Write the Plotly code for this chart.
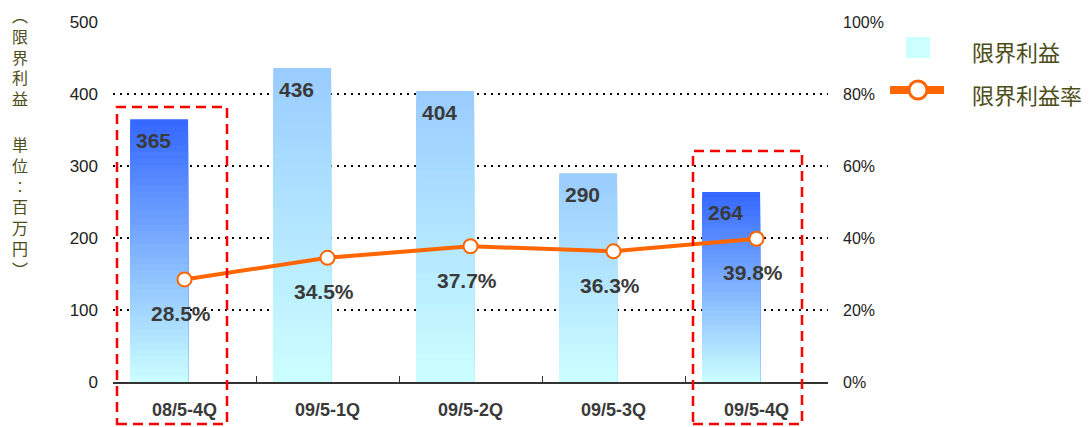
import plotly.graph_objects as go

# data
quarters = ['08/5-4Q', '09/5-1Q', '09/5-2Q', '09/5-3Q', '09/5-4Q']
profit = [365, 436, 404, 290, 264]          # 限界利益 (百万円)
rate = [0.285, 0.345, 0.377, 0.363, 0.398]  # 限界利益率
rate_labels = ['28.5%', '34.5%', '37.7%', '36.3%', '39.8%']
highlight = [True, False, False, False, True]

# page body has an 8px margin, so the figure is shifted
OFF = 8
W, H = 1092 - OFF, 427 - OFF
L, T = 113 - OFF, 22 - OFF
R, B = W - (828 - OFF), H - (382 - OFF)
PW, PH = W - L - R, H - T - B


def px(x):
    return (x - OFF - L) / PW


def py(y):
    return (H - B - (y - OFF)) / PH


def mix(c1, c2, t):
    a = [int(c1[i:i + 2], 16) for i in (1, 3, 5)]
    b = [int(c2[i:i + 2], 16) for i in (1, 3, 5)]
    return 'rgb(%d,%d,%d)' % tuple(round(a[k] + (b[k] - a[k]) * t) for k in range(3))


fig = go.Figure()

# gradient bars: full bars drawn tallest first, each shorter one lighter on top
N = 40
for k in range(N):
    frac = (N - k) / N
    t = (N - k - 0.5) / N
    cols = [mix('#CCFFFF', '#3366FF' if h else '#99CCFF', t) for h in highlight]
    fig.add_trace(go.Bar(
        x=quarters, y=[v * frac for v in profit],
        marker=dict(color=cols, line=dict(width=0)),
        offset=-0.38, width=0.405, showlegend=False, hoverinfo='skip'))

fig.add_trace(go.Scatter(
    x=quarters, y=rate, yaxis='y2', mode='lines+markers', showlegend=False,
    line=dict(color='#FF6600', width=4),
    marker=dict(size=14, color='white', line=dict(color='#FF6600', width=2))))

ann = []
for q, v in zip(quarters, profit):
    ann.append(dict(x=q, y=v, text='<b>%d</b>' % v, showarrow=False, xshift=-31, yshift=-21,
                    font=dict(size=21, color='#3A3A3A', family='Liberation Sans, Arial')))
for q, r, s in zip(quarters, rate, rate_labels):
    ann.append(dict(x=q, y=r, yref='y2', text='<b>%s</b>' % s, showarrow=False, xshift=-4, yshift=-34,
                    font=dict(size=21, color='#3A3A3A', family='Liberation Sans, Arial')))

# vertical axis title, written one character per line in two blocks
for txt, yy in [('︵限界利益', 56), ('単位︰百万円︶', 207)]:
    ann.append(dict(x=px(20), y=py(yy), xref='paper', yref='paper', text='<br>'.join(txt),
                    showarrow=False, xanchor='center', yanchor='middle',
                    font=dict(size=16, color='#4D4D1A', family='Noto Sans CJK JP')))

# legend text
for txt, yy in [('限界利益', 51), ('限界利益率', 94)]:
    ann.append(dict(x=px(970), y=py(yy), xref='paper', yref='paper', text=txt,
                    xanchor='left', yanchor='middle', showarrow=False,
                    font=dict(size=22, color='#4D4D1A', family='Noto Sans CJK JP')))

shapes = [
    dict(type='rect', xref='paper', yref='paper', x0=px(906), x1=px(930), y0=py(58), y1=py(37),
         fillcolor='#CCFFFF', line=dict(width=0)),
    dict(type='line', xref='paper', yref='paper', x0=px(890), x1=px(944), y0=py(90), y1=py(90),
         line=dict(color='#FF6600', width=8)),
    dict(type='circle', xref='paper', yref='paper', x0=px(909), x1=px(927), y0=py(99), y1=py(81),
         fillcolor='white', line=dict(color='#FF6600', width=3)),
    dict(type='rect', xref='paper', yref='paper', x0=px(117), x1=px(227), y0=py(424), y1=py(107),
         line=dict(color='#FF0000', width=2.5, dash='10px,6px')),
    dict(type='rect', xref='paper', yref='paper', x0=px(693), x1=px(802), y0=py(424), y1=py(151),
         line=dict(color='#FF0000', width=2.5, dash='10px,6px')),
]

fig.update_layout(
    width=W, height=H, margin=dict(l=L, r=R, t=T, b=B, autoexpand=False),
    plot_bgcolor='white', paper_bgcolor='white', barmode='overlay',
    showlegend=False, annotations=ann, shapes=shapes,
    xaxis=dict(showline=True, linecolor='#333333', linewidth=1.5, ticks='inside', ticklen=6,
               tickcolor='#333333', tickson='boundaries', showgrid=False, ticklabelstandoff=11,
               automargin=False,
               tickfont=dict(size=18, color='#3A3A3A', family='Liberation Sans, Arial', weight='bold')),
    yaxis=dict(range=[0, 500], dtick=100, showline=False, zeroline=False, automargin=False,
               showgrid=True, gridcolor='black', gridwidth=2, griddash='2px,5px',
               ticklabelstandoff=14,
               tickfont=dict(size=17, color='#222222', family='Liberation Sans, Arial')),
    yaxis2=dict(range=[0, 1], dtick=0.2, tickformat='.0%', overlaying='y', side='right',
                showgrid=False, zeroline=False, showline=False, ticklabelstandoff=14,
                automargin=False,
                tickfont=dict(size=16, color='#222222', family='Liberation Sans, Arial')),
)

fig.write_html('out.html')
